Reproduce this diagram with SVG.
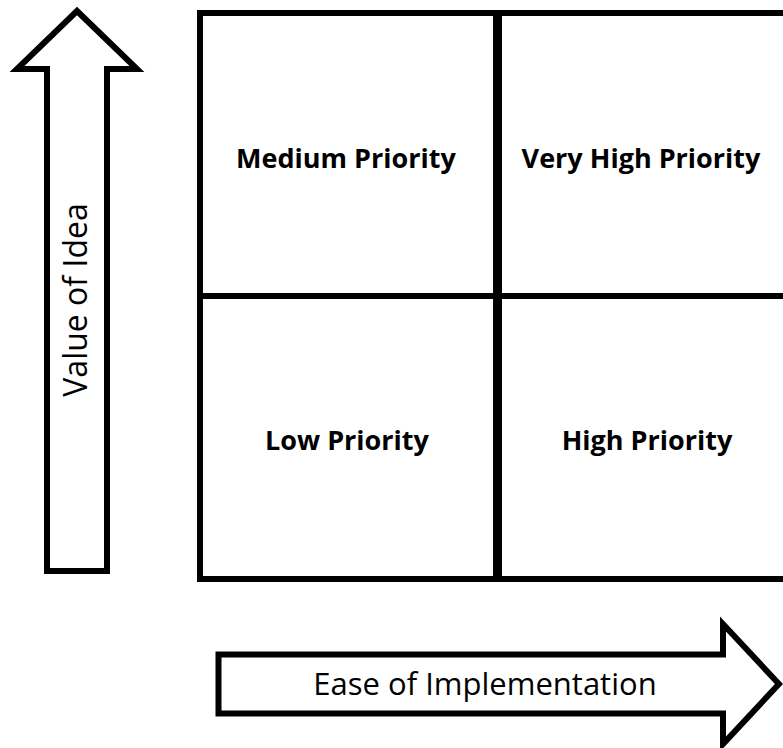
<svg xmlns="http://www.w3.org/2000/svg" width="783" height="748" viewBox="0 0 783 748">
<style>
.cell{fill:#fff;stroke:#000;stroke-width:6;stroke-linejoin:miter}
.arrow{fill:#fff;stroke:#000;stroke-width:6;stroke-linejoin:miter;stroke-miterlimit:10}
.lbl{font-family:"Open Sans","Liberation Sans",sans-serif;font-weight:bold;font-size:27px;fill:#000;text-anchor:middle}
.axis{font-family:"Open Sans","Liberation Sans",sans-serif;font-size:31px;fill:#000;text-anchor:middle}
</style>
<rect width="783" height="748" fill="#fff"/>
<g id="medium-priority">
<rect class="cell" x="200" y="13" width="296" height="283"/>
<text class="lbl" x="346" y="168">Medium Priority</text>
</g>
<g id="low-priority">
<rect class="cell" x="200" y="296" width="296" height="283"/>
<text class="lbl" x="347" y="450">Low Priority</text>
</g>
<g id="very-high-priority">
<rect class="cell" x="499" y="13" width="300" height="283"/>
<text class="lbl" x="641" y="168">Very High Priority</text>
</g>
<g id="high-priority">
<rect class="cell" x="499" y="296" width="300" height="283"/>
<text class="lbl" x="647" y="450">High Priority</text>
</g>
<g id="connectors">
<g id="value-axis">
<path class="arrow" d="M47,571 L47,69 L17,69 L77,11 L137,69 L107,69 L107,571 Z"/>
<text class="axis" style="font-size:32px" transform="translate(87,300) rotate(-90)">Value of Idea</text>
</g>
<g id="ease-axis">
<path class="arrow" d="M218.5,654.5 L723,654.5 L723,624 L779,684 L723,744 L723,713.5 L218.5,713.5 Z"/>
<text class="axis" x="485" y="695">Ease of Implementation</text>
</g>
</g>
</svg>
